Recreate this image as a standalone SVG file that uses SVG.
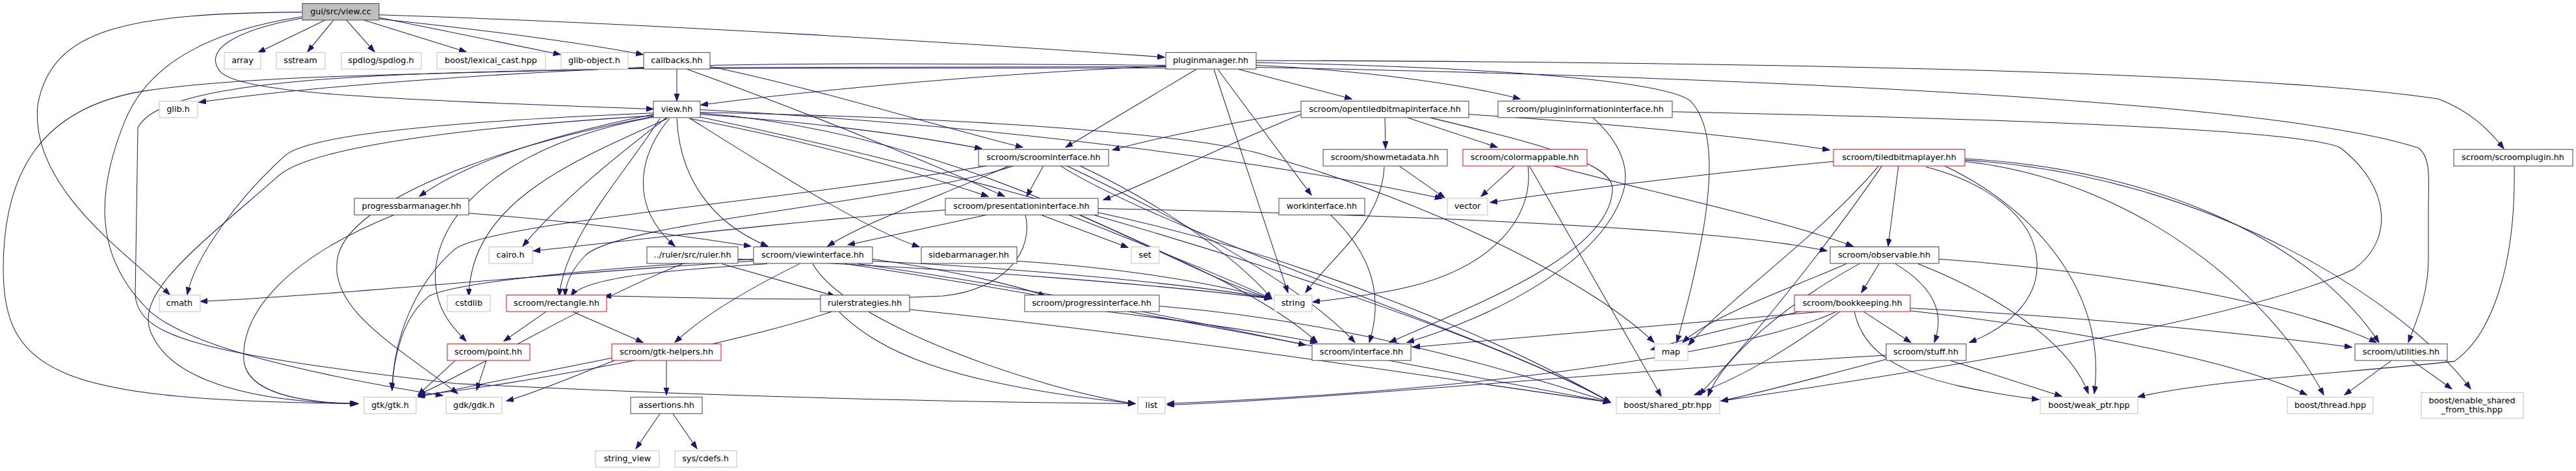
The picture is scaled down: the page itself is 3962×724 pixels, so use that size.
<svg xmlns="http://www.w3.org/2000/svg" width="3962" height="724" viewBox="0 0 3962 724">
<style>
rect{stroke-width:1}
.n{fill:#fff;stroke:#404040}
.x{fill:#fff;stroke:#bfbfbf}
.r{fill:#fff;stroke:#ff0000}
.root{fill:#bfbfbf;stroke:#404040}
text{font-family:"DejaVu Sans","Liberation Sans",sans-serif;font-size:12.8px;fill:#000;text-anchor:middle}
#edges path{fill:none;stroke:#191970;stroke-width:1;marker-end:url(#ah)}
</style>
<defs>
<marker id="ah" markerUnits="userSpaceOnUse" markerWidth="12" markerHeight="9" refX="11" refY="4" orient="auto"><path d="M0,0 L11,4 L0,8 z" fill="#191970" stroke="#191970"/></marker>
</defs>
<rect width="3962" height="724" fill="#fff"/>
<g id="edges" transform="scale(1,1.0342)">
<path d="M500,30 L397,78"/>
<path d="M513,30 L473,77"/>
<path d="M533,30 L576,77"/>
<path d="M560,30 L717,77"/>
<path d="M583,26 L862,81"/>
<path d="M583,28 C750,45 900,65 989,81"/>
<path d="M583,22 C1000,35 1500,65 1791,85"/>
<path d="M464,27 C360,45 310,75 340,108 C380,140 600,148 1005,162"/>
<path d="M464,18 C200,20 80,40 58,156 C45,280 200,380 261,438"/>
<path d="M464,25 C330,45 230,90 192,180 C150,280 140,380 232,464 C300,520 500,560 681,588"/>
<path d="M1041,103 L1041,150"/>
<path d="M1793,97 C1500,95 1200,92 990,100 C800,108 500,125 306,152"/>
<path d="M1793,99 C1400,100 1200,98 989,101 C700,110 400,110 223,135 C60,160 5,260 5,400 C5,560 100,595 551,600"/>
<path d="M1793,101 C1400,102 1200,100 990,102 C600,108 250,115 212,190 L208,440 C215,500 300,525 700,570 C1100,590 1500,598 1746,600"/>
<path d="M1093,99 C1250,130 1450,190 1573,219"/>
<path d="M1057,103 C1250,170 1450,250 1545,292"/>
<path d="M1077,167 C1500,175 1850,200 1950,232 C2200,300 2450,420 2544,509"/>
<path d="M1793,98 C1500,110 1200,140 1078,156"/>
<path d="M1840,103 L1639,219"/>
<path d="M1867,103 L1981,435"/>
<path d="M1873,103 L2017,290"/>
<path d="M1905,103 L2079,147"/>
<path d="M1932,97 C2100,105 2250,125 2338,147"/>
<path d="M1932,93 C2300,100 2560,120 2600,150 C2640,190 2630,280 2620,340 C2605,420 2590,470 2579,509"/>
<path d="M1932,90 C2800,92 3500,110 3750,147 C3800,165 3830,195 3851,221"/>
<path d="M1932,100 C2700,115 3500,150 3720,220 C3740,235 3735,270 3735,310 L3735,384 C3735,440 3715,480 3704,509"/>
<path d="M1005,170 C850,200 720,240 645,292"/>
<path d="M1025,175 C950,230 860,300 804,366"/>
<path d="M1027,176 C880,240 725,300 721,440"/>
<path d="M1030,176 C990,220 960,300 1038,366"/>
<path d="M1041,176 C1045,260 1090,330 1181,366"/>
<path d="M1553,246 C1450,290 1330,330 1273,366"/>
<path d="M1061,176 C1200,260 1330,340 1414,367"/>
<path d="M1077,170 C1300,185 1450,210 1510,221"/>
<path d="M1060,176 C1300,220 1450,270 1520,292"/>
<path d="M1005,168 C700,180 480,200 440,230 C370,290 300,380 288,438"/>
<path d="M1005,172 C700,190 480,220 430,260 C300,370 200,440 235,500 C270,570 400,598 551,600"/>
<path d="M1005,173 C750,220 540,300 520,380 C500,460 620,520 704,585"/>
<path d="M1005,174 C800,210 680,300 670,400 C665,460 700,490 717,507"/>
<path d="M1015,176 C960,260 870,350 860,440"/>
<path d="M1077,168 C1500,200 1800,400 1956,444"/>
<path d="M1077,174 C1700,300 2300,500 2477,598"/>
<path d="M1077,163 C1600,190 2000,250 2218,295"/>
<path d="M1605,246 L1579,292"/>
<path d="M1560,246 C1400,300 950,330 900,380 C880,400 870,420 869,440"/>
<path d="M1640,246 C1800,320 2000,420 2084,509"/>
<path d="M1660,246 C1780,300 1900,380 1956,444"/>
<path d="M1630,246 C1800,350 2300,500 2477,598"/>
<path d="M1520,246 C1200,300 760,330 700,370 C640,420 605,500 603,580"/>
<path d="M1519,319 L1304,364"/>
<path d="M1600,319 L1735,368"/>
<path d="M1643,319 C1750,360 1880,410 1956,444"/>
<path d="M1689,310 C2200,320 2650,340 2810,373"/>
<path d="M1577,319 C1590,370 1550,430 1450,440 C1200,450 1000,440 929,440"/>
<path d="M1660,319 C1800,380 1950,440 2026,509"/>
<path d="M1689,316 C2000,380 2300,500 2477,598"/>
<path d="M1454,312 C1200,330 950,360 820,373"/>
<path d="M1159,388 C800,410 500,440 308,448"/>
<path d="M1180,392 C1050,400 900,410 878,440"/>
<path d="M1230,392 C1150,430 1080,470 1038,509"/>
<path d="M1342,385 C1450,400 1550,420 1608,440"/>
<path d="M1159,385 C900,400 700,420 660,440 C620,470 605,530 603,580"/>
<path d="M1342,388 C1600,400 1850,425 1956,444"/>
<path d="M1320,392 C1600,430 1850,480 2008,513"/>
<path d="M1300,392 C1700,450 2200,550 2477,598"/>
<path d="M1250,392 C1300,480 1600,580 1746,600"/>
<path d="M1110,392 L1284,440"/>
<path d="M1050,392 C900,450 750,540 643,587"/>
<path d="M1135,385 C1500,400 1800,425 1956,444"/>
<path d="M1280,463 C1100,520 800,570 643,588"/>
<path d="M1290,463 C1350,520 1450,570 1746,600"/>
<path d="M1399,460 C1800,500 2200,560 2477,598"/>
<path d="M721,317 C900,330 1050,350 1155,366"/>
<path d="M607,319 C450,380 370,460 375,536 C380,580 450,598 549,600"/>
<path d="M1564,388 C1750,400 1880,425 1956,444"/>
<path d="M1700,463 C1850,480 1950,495 2026,509"/>
<path d="M1783,455 C2100,480 2350,560 2477,598"/>
<path d="M840,463 L775,507"/>
<path d="M880,463 L989,509"/>
<path d="M748,536 L733,580"/>
<path d="M700,536 L643,587"/>
<path d="M1025,536 L1025,587"/>
<path d="M945,536 C880,560 820,585 779,596"/>
<path d="M941,532 C820,555 720,575 643,590"/>
<path d="M1015,615 L978,667"/>
<path d="M1035,615 L1072,667"/>
<path d="M2046,319 C2090,360 2135,420 2106,509"/>
<path d="M2130,175 L2131,221"/>
<path d="M2165,175 L2303,219"/>
<path d="M2001,170 C1850,230 1750,280 1697,297"/>
<path d="M2001,165 C1850,190 1760,210 1711,223"/>
<path d="M2200,175 C2350,210 2480,240 2480,280 C2480,380 2250,460 2137,509"/>
<path d="M2259,170 C2500,185 2700,205 2814,223"/>
<path d="M2450,175 C2490,210 2510,250 2495,290 C2460,390 2300,470 2164,509"/>
<path d="M2572,166 C3000,175 3540,190 3600,220 C3680,280 3680,360 3620,400 C3450,480 2900,560 2647,596"/>
<path d="M2151,246 L2222,294"/>
<path d="M2129,248 C2125,330 2050,380 2008,435"/>
<path d="M2330,246 L2278,292"/>
<path d="M2350,246 C2360,320 2300,400 2150,430 C2100,440 2050,445 2019,449"/>
<path d="M2352,246 L2555,589"/>
<path d="M2387,246 C2600,300 2750,330 2850,366"/>
<path d="M2920,246 L2904,366"/>
<path d="M2820,240 C2600,260 2400,285 2292,301"/>
<path d="M2962,248 C3050,270 3130,320 3133,390 C3136,450 3080,490 3029,509"/>
<path d="M2890,246 C2800,350 2650,450 2597,513"/>
<path d="M2895,246 C2800,380 2680,520 2613,587"/>
<path d="M2990,246 C3150,320 3240,450 3221,585"/>
<path d="M3022,240 C3300,270 3500,450 3574,587"/>
<path d="M3022,238 C3400,260 3700,450 3800,578"/>
<path d="M3022,236 C3300,250 3550,350 3659,509"/>
<path d="M2890,392 L2863,435"/>
<path d="M2840,392 C2750,430 2630,470 2588,509"/>
<path d="M2860,392 C2750,450 2650,530 2627,589"/>
<path d="M2950,392 C3050,430 3180,500 3212,585"/>
<path d="M2982,385 C3200,400 3500,440 3655,509"/>
<path d="M2915,392 C2980,430 2990,470 2975,509"/>
<path d="M2866,463 L2939,509"/>
<path d="M2780,460 C2700,480 2600,500 2539,520"/>
<path d="M2938,458 C3200,470 3450,495 3617,516"/>
<path d="M2830,463 C2750,520 2680,560 2606,587"/>
<path d="M2852,463 C2870,540 2950,570 3136,594"/>
<path d="M2805,463 C2600,480 2350,500 2173,516"/>
<path d="M2825,463 C2700,520 2300,580 1795,600"/>
<path d="M2938,462 C3200,490 3450,540 3548,587"/>
<path d="M2901,528 C2500,550 2100,590 1795,602"/>
<path d="M2901,534 C2800,560 2700,585 2647,596"/>
<path d="M3000,536 L3171,589"/>
<path d="M3678,536 L3606,587"/>
<path d="M3710,536 L3771,578"/>
<path d="M3867,246 C3870,400 3830,500 3775,537 C3600,555 3400,565 3288,590"/>
</g>
<g id="n-viewcc"><rect class="root" x="465" y="5.5" width="118" height="25.4"/><text x="524" y="21.8">gui/src/view.cc</text></g>
<g id="n-array"><rect class="x" x="345" y="80.7" width="56" height="25.4"/><text x="373" y="97">array</text></g>
<g id="n-sstream"><rect class="x" x="425" y="80.7" width="75" height="25.4"/><text x="462" y="97">sstream</text></g>
<g id="n-spdlog"><rect class="x" x="525" y="80.7" width="123" height="25.4"/><text x="586" y="97">spdlog/spdlog.h</text></g>
<g id="n-lexical"><rect class="x" x="672" y="80.7" width="167" height="25.4"/><text x="755" y="97">boost/lexical_cast.hpp</text></g>
<g id="n-globj"><rect class="x" x="863" y="80.7" width="103" height="25.4"/><text x="914" y="97">glib-object.h</text></g>
<g id="n-callbacks"><rect class="n" x="990" y="80.7" width="102" height="25.4"/><text x="1041" y="97">callbacks.hh</text></g>
<g id="n-pluginmanager"><rect class="n" x="1793" y="80.7" width="139" height="25.4"/><text x="1862" y="97">pluginmanager.hh</text></g>
<g id="n-glibh"><rect class="x" x="245" y="155.4" width="59" height="25.4"/><text x="274" y="171.7">glib.h</text></g>
<g id="n-viewhh"><rect class="n" x="1005" y="155.4" width="72" height="25.4"/><text x="1041" y="171.7">view.hh</text></g>
<g id="n-opentiled"><rect class="n" x="2001" y="155.4" width="258" height="25.4"/><text x="2130" y="171.7">scroom/opentiledbitmapinterface.hh</text></g>
<g id="n-plugininfo"><rect class="n" x="2304" y="155.4" width="268" height="25.4"/><text x="2438" y="171.7">scroom/plugininformationinterface.hh</text></g>
<g id="n-scroomif"><rect class="n" x="1505" y="229.7" width="200" height="25.4"/><text x="1605" y="246">scroom/scroominterface.hh</text></g>
<g id="n-showmeta"><rect class="n" x="2035" y="229.7" width="191" height="25.4"/><text x="2130" y="246">scroom/showmetadata.hh</text></g>
<g id="n-colormap"><rect class="r" x="2250" y="229.7" width="191" height="25.4"/><text x="2345" y="246">scroom/colormappable.hh</text></g>
<g id="n-tiledbmp"><rect class="r" x="2820" y="229.7" width="202" height="25.4"/><text x="2921" y="246">scroom/tiledbitmaplayer.hh</text></g>
<g id="n-scroomplugin"><rect class="n" x="3774" y="229.7" width="183" height="25.4"/><text x="3865" y="246">scroom/scroomplugin.hh</text></g>
<g id="n-pbm"><rect class="n" x="545" y="304.9" width="176" height="25.4"/><text x="633" y="321.2">progressbarmanager.hh</text></g>
<g id="n-presif"><rect class="n" x="1454" y="304.9" width="235" height="25.4"/><text x="1571" y="321.2">scroom/presentationinterface.hh</text></g>
<g id="n-workif"><rect class="n" x="1967" y="304.9" width="132" height="25.4"/><text x="2033" y="321.2">workinterface.hh</text></g>
<g id="n-vector"><rect class="x" x="2226" y="304.9" width="62" height="25.4"/><text x="2257" y="321.2">vector</text></g>
<g id="n-cairo"><rect class="x" x="752" y="379.5" width="67" height="25.4"/><text x="785" y="395.8">cairo.h</text></g>
<g id="n-ruler"><rect class="n" x="995" y="379.5" width="140" height="25.4"/><text x="1065" y="395.8">../ruler/src/ruler.hh</text></g>
<g id="n-viewif"><rect class="n" x="1159" y="379.5" width="183" height="25.4"/><text x="1250" y="395.8">scroom/viewinterface.hh</text></g>
<g id="n-sidebar"><rect class="n" x="1417" y="379.5" width="147" height="25.4"/><text x="1490" y="395.8">sidebarmanager.hh</text></g>
<g id="n-set"><rect class="x" x="1740" y="379.5" width="43" height="25.4"/><text x="1761" y="395.8">set</text></g>
<g id="n-observable"><rect class="n" x="2815" y="379.5" width="167" height="25.4"/><text x="2898" y="395.8">scroom/observable.hh</text></g>
<g id="n-cmath"><rect class="x" x="245" y="453.6" width="63" height="25.4"/><text x="276" y="469.9">cmath</text></g>
<g id="n-cstdlib"><rect class="x" x="688" y="453.6" width="66" height="25.4"/><text x="721" y="469.9">cstdlib</text></g>
<g id="n-rect"><rect class="r" x="779" y="453.6" width="154" height="25.4"/><text x="856" y="469.9">scroom/rectangle.hh</text></g>
<g id="n-rulerstrat"><rect class="n" x="1262" y="453.6" width="137" height="25.4"/><text x="1330" y="469.9">rulerstrategies.hh</text></g>
<g id="n-progif"><rect class="n" x="1576" y="453.6" width="207" height="25.4"/><text x="1679" y="469.9">scroom/progressinterface.hh</text></g>
<g id="n-string"><rect class="x" x="1960" y="453.6" width="58" height="25.4"/><text x="1989" y="469.9">string</text></g>
<g id="n-bookkeeping"><rect class="r" x="2760" y="453.6" width="178" height="25.4"/><text x="2849" y="469.9">scroom/bookkeeping.hh</text></g>
<g id="n-point"><rect class="r" x="688" y="528.7" width="127" height="25.4"/><text x="751" y="545">scroom/point.hh</text></g>
<g id="n-gtkhelpers"><rect class="r" x="941" y="528.7" width="168" height="25.4"/><text x="1025" y="545">scroom/gtk-helpers.hh</text></g>
<g id="n-interface"><rect class="n" x="2018" y="528.7" width="152" height="25.4"/><text x="2094" y="545">scroom/interface.hh</text></g>
<g id="n-map"><rect class="x" x="2545" y="528.7" width="51" height="25.4"/><text x="2570" y="545">map</text></g>
<g id="n-stuff"><rect class="n" x="2901" y="528.7" width="123" height="25.4"/><text x="2962" y="545">scroom/stuff.hh</text></g>
<g id="n-utilities"><rect class="n" x="3622" y="528.7" width="142" height="25.4"/><text x="3693" y="545">scroom/utilities.hh</text></g>
<g id="n-gtk"><rect class="x" x="560" y="610.4" width="80" height="25.4"/><text x="600" y="626.7">gtk/gtk.h</text></g>
<g id="n-gdk"><rect class="x" x="686" y="610.4" width="86" height="25.4"/><text x="729" y="626.7">gdk/gdk.h</text></g>
<g id="n-assertions"><rect class="n" x="970" y="610.4" width="110" height="25.4"/><text x="1025" y="626.7">assertions.hh</text></g>
<g id="n-list"><rect class="x" x="1750" y="610.4" width="42" height="25.4"/><text x="1771" y="626.7">list</text></g>
<g id="n-sharedptr"><rect class="x" x="2486" y="610.4" width="159" height="25.4"/><text x="2565" y="626.7">boost/shared_ptr.hpp</text></g>
<g id="n-weakptr"><rect class="x" x="3138" y="610.4" width="150" height="25.4"/><text x="3213" y="626.7">boost/weak_ptr.hpp</text></g>
<g id="n-thread"><rect class="x" x="3518" y="610.4" width="132" height="25.4"/><text x="3584" y="626.7">boost/thread.hpp</text></g>
<g id="n-enable"><rect class="x" x="3724" y="603.3" width="157" height="39.7"/><text x="3802" y="619.5">boost/enable_shared</text><text x="3802" y="634">_from_this.hpp</text></g>
<g id="n-stringview"><rect class="x" x="916" y="692.8" width="98" height="25.4"/><text x="965" y="709.1">string_view</text></g>
<g id="n-cdefs"><rect class="x" x="1038" y="692.8" width="95" height="25.4"/><text x="1085" y="709.1">sys/cdefs.h</text></g>
</svg>
